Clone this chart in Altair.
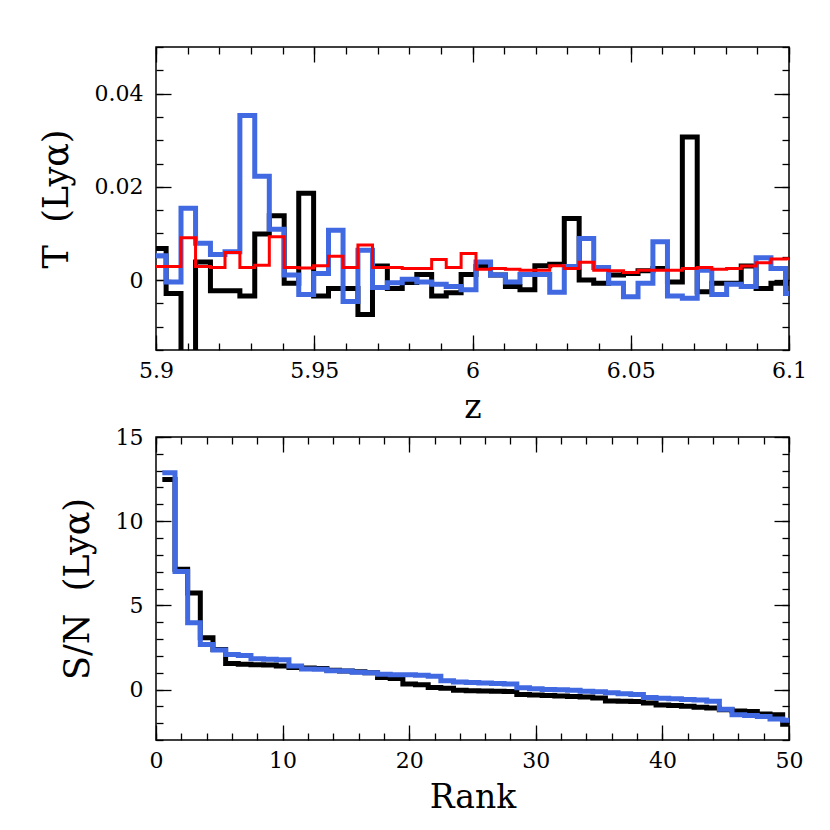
import altair as alt
import pandas as pd

# ---------------- top panel: transmission vs redshift ----------------
z_edges = [5.9000, 5.9032, 5.9079, 5.9125, 5.9172, 5.9218, 5.9265, 5.9312, 5.9358,
           5.9405, 5.9451, 5.9498, 5.9545, 5.9591, 5.9638, 5.9684, 5.9731, 5.9778,
           5.9824, 5.9871, 5.9917, 5.9964, 6.0011, 6.0057, 6.0104, 6.0150, 6.0197,
           6.0244, 6.0290, 6.0337, 6.0383, 6.0430, 6.0477, 6.0523, 6.0570, 6.0616,
           6.0663, 6.0710, 6.0756, 6.0803, 6.0849, 6.0896, 6.0943, 6.0989]
z_end = 6.1

t_black = [0.0068, -0.0029, -0.0250, 0.0039, -0.0023, -0.0023, -0.0034, 0.0099, 0.0138,
           -0.0007, 0.0186, -0.0034, -0.0018, -0.0018, -0.0074, 0.0030, -0.0018, -0.0005,
           0.0012, -0.0034, -0.0027, 0.0012, 0.0029, 0.0011, -0.0014, -0.0021, 0.0031,
           0.0034, 0.0132, 0.0000, -0.0007, 0.0011, 0.0014, 0.0020, 0.0025, -0.0004,
           0.0307, -0.0025, -0.0007, -0.0007, 0.0030, -0.0018, -0.0007, -0.0007]
t_blue = [0.0052, -0.0004, 0.0154, 0.0079, 0.0055, 0.0061, 0.0353, 0.0223, 0.0109,
          0.0011, -0.0031, 0.0014, 0.0107, -0.0046, 0.0064, -0.0016, -0.0006, 0.0002,
          -0.0004, -0.0009, -0.0014, -0.0021, 0.0039, 0.0011, -0.0004, 0.0012, 0.0012,
          -0.0026, 0.0029, 0.0089, 0.0027, -0.0007, -0.0036, -0.0007, 0.0082, -0.0034,
          -0.0039, 0.0021, -0.0031, -0.0009, -0.0014, 0.0048, 0.0025, -0.0029]
t_red = [0.0029, 0.0029, 0.0091, 0.0029, 0.0027, 0.0059, 0.0027, 0.0032, 0.0093,
         0.0027, 0.0026, 0.0031, 0.0051, 0.0027, 0.0075, 0.0027, 0.0027, 0.0025,
         0.0025, 0.0044, 0.0027, 0.0057, 0.0023, 0.0025, 0.0023, 0.0021, 0.0021,
         0.0031, 0.0025, 0.0038, 0.0021, 0.0020, 0.0016, 0.0021, 0.0021, 0.0021,
         0.0025, 0.0027, 0.0023, 0.0025, 0.0030, 0.0037, 0.0045, 0.0046]

# ---------------- bottom panel: ranked S/N ----------------
rank = list(range(1, 51))
sn_black = [12.48, 7.15, 5.73, 3.07, 2.38, 1.55, 1.50, 1.47, 1.45, 1.40,
            1.30, 1.27, 1.25, 1.15, 1.10, 1.05, 1.00, 0.72, 0.65, 0.32,
            0.28, 0.12, 0.08, -0.05, -0.08, -0.09, -0.10, -0.12, -0.30, -0.32,
            -0.35, -0.38, -0.42, -0.45, -0.50, -0.68, -0.70, -0.72, -0.80, -0.92,
            -0.95, -1.00, -1.05, -1.10, -1.20, -1.27, -1.30, -1.45, -1.50, -2.06]
sn_blue = [12.87, 7.01, 3.96, 2.67, 2.34, 2.08, 2.02, 1.82, 1.79, 1.76,
           1.40, 1.22, 1.20, 1.12, 1.10, 1.03, 1.00, 0.90, 0.88, 0.87,
           0.85, 0.78, 0.52, 0.45, 0.42, 0.38, 0.36, 0.33, 0.10, 0.05,
           0.00, -0.02, -0.05, -0.10, -0.13, -0.20, -0.25, -0.30, -0.48, -0.52,
           -0.55, -0.60, -0.62, -0.70, -1.17, -1.50, -1.55, -1.60, -1.75, -1.82]

BLACK = "#000000"
BLUE = "#4169E1"
RED = "#FF0000"
FONT = "DejaVu Serif"
W, H = 633, 303
MAJ, MIN = 15, 7
NB = "\u00a0"


def step_frame(left_edges, end, values, name, order):
    rows = [{"x": x, "y": y, "s": name, "o": i} for i, (x, y) in enumerate(zip(left_edges, values))]
    rows.append({"x": end, "y": values[-1], "s": name, "o": len(values)})
    df = pd.DataFrame(rows)
    df["layer"] = order
    return df


def data_line(df, xs, ys, color, width):
    return alt.Chart(df).mark_line(
        interpolate="step-after", color=color, strokeWidth=width, clip=True,
        strokeJoin="miter", strokeCap="butt"
    ).encode(
        x=alt.X("x:Q", scale=xs, axis=None),
        y=alt.Y("y:Q", scale=ys, axis=None),
        order="o:Q",
    )


def axis_layers(df, xs, ys, xmaj, xmin, ymaj, ymin, xtitle, ytitle, xfmt, yfmt):
    base = alt.Chart(df).mark_line(opacity=0)
    common = dict(domain=False, grid=False, tickColor="black", tickWidth=1.3)

    def ax(orient, values, size, labels=False, title=None, fmt=None):
        kw = dict(orient=orient, values=values, tickSize=size, offset=-size,
                  labels=labels, title=title, **common)
        if labels:
            kw.update(format=fmt, labelFont=FONT, labelFontSize=22, labelColor="black",
                      labelPadding=10 if orient == "bottom" else 13,
                      labelOverlap=False, labelFlush=False)
        if title:
            kw.update(titleFont=FONT, titleFontWeight="normal", titleColor="black",
                      titleFontSize=33 if orient == "bottom" else 35,
                      titlePadding=10 if orient == "bottom" else 20)
        return alt.Axis(**kw)

    layers = []
    specs = [
        (ax("bottom", xmaj, MAJ, True, xtitle, xfmt), ax("left", ymaj, MAJ, True, ytitle, yfmt)),
        (ax("bottom", xmin, MIN), ax("left", ymin, MIN)),
        (ax("top", xmaj, MAJ), ax("right", ymaj, MAJ)),
        (ax("top", xmin, MIN), ax("right", ymin, MIN)),
    ]
    for xa, ya in specs:
        layers.append(base.encode(x=alt.X("x:Q", scale=xs, axis=xa),
                                  y=alt.Y("y:Q", scale=ys, axis=ya)))
    return layers


# top panel
zs = alt.Scale(domain=[5.9, 6.1], nice=False, zero=False)
ts = alt.Scale(domain=[-0.015, 0.05], nice=False, zero=False)
df_k = step_frame(z_edges, z_end, t_black, "black", 0)
df_b = step_frame(z_edges, z_end, t_blue, "blue", 1)
df_r = step_frame(z_edges, z_end, t_red, "red", 2)

z_major = [5.9, 5.95, 6.0, 6.05, 6.1]
z_minor = [round(5.9 + 0.01 * i, 2) for i in range(21)]
t_major = [0.0, 0.02, 0.04]
t_minor = [round(-0.015 + 0.005 * i, 3) for i in range(14)]

top = alt.layer(
    *axis_layers(df_k, zs, ts, z_major, z_minor, t_major, t_minor,
                 "z", "T" + NB + NB + "(Lyα)", ".2~f", ".2~f"),
    data_line(df_k, zs, ts, BLACK, 5),
    data_line(df_b, zs, ts, BLUE, 5),
    data_line(df_r, zs, ts, RED, 3),
).resolve_axis(x="independent", y="independent").properties(width=W, height=H)

# bottom panel
rs = alt.Scale(domain=[0, 50], nice=False, zero=False)
ss = alt.Scale(domain=[-3, 15], nice=False, zero=False)
rank_edges = [r - 0.5 for r in rank]
df_sk = step_frame(rank_edges, rank[-1] + 0.5, sn_black, "black", 0)
df_sb = step_frame(rank_edges, rank[-1] + 0.5, sn_blue, "blue", 1)

r_major = [0, 10, 20, 30, 40, 50]
r_minor = list(range(0, 51, 2))
s_major = [0, 5, 10, 15]
s_minor = list(range(-3, 16))

bottom = alt.layer(
    *axis_layers(df_sk, rs, ss, r_major, r_minor, s_major, s_minor,
                 "Rank", "S/N" + NB + NB + "(Lyα)", "d", "d"),
    data_line(df_sk, rs, ss, BLACK, 5),
    data_line(df_sb, rs, ss, BLUE, 5),
).resolve_axis(x="independent", y="independent").properties(width=W, height=H)

chart = alt.vconcat(top, bottom, spacing=0).configure_view(
    stroke="black", strokeWidth=1.5
).properties(
    padding={"left": 30, "top": 37, "right": 5, "bottom": 5},
    background="white",
)

chart.save("out.html", embed_options={"renderer": "svg", "actions": False})
